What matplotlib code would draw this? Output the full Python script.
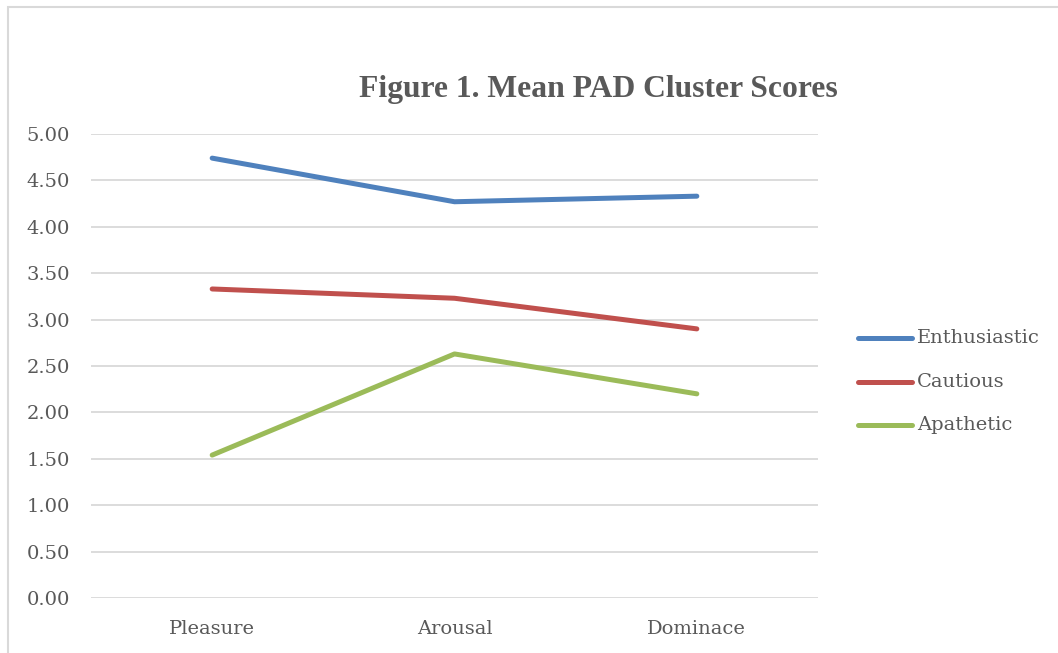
import matplotlib.pyplot as plt
from matplotlib.lines import Line2D
from matplotlib.patches import Rectangle

categories = ["Pleasure", "Arousal", "Dominace"]
series_names = ["Enthusiastic", "Cautious", "Apathetic"]
enthusiastic = [4.74, 4.27, 4.33]
cautious = [3.33, 3.23, 2.90]
apathetic = [1.54, 2.63, 2.20]
colors = ["#4F81BD", "#C0504D", "#9BBB59"]
yticks = [0.0, 0.5, 1.0, 1.5, 2.0, 2.5, 3.0, 3.5, 4.0, 4.5, 5.0]

W, H = 1058, 653
fig = plt.figure(figsize=(W / 100, H / 100), dpi=100)
fig.patch.set_facecolor("white")

# chart border (runs off the right/bottom edge like the screenshot)
fig.add_artist(Rectangle((8 / W, -0.05), 1.1, 1 - 7 / H + 0.05, transform=fig.transFigure,
                         fill=False, edgecolor="#d9d9d9", linewidth=1.5))

ax = fig.add_axes([91 / W, 1 - 598 / H, (818 - 91) / W, (598 - 134) / H])
x = range(len(categories))
for vals, name, c in zip([enthusiastic, cautious, apathetic], series_names, colors):
    ax.plot(x, vals, color=c, linewidth=3.6, solid_capstyle="round", label=name, zorder=3)

ax.set_xlim(-0.5, len(categories) - 0.5)
ax.set_ylim(0, 5)
ax.set_yticks(yticks)
ax.set_yticklabels([f"{v:.2f}" for v in yticks])
ax.set_xticks(list(x))
ax.set_xticklabels(categories)
ax.grid(axis="y", color="#d9d9d9", linewidth=1.3)
ax.set_axisbelow(True)
for s in ax.spines.values():
    s.set_visible(False)
ax.tick_params(length=0, labelsize=14, labelcolor="#595959")
ax.tick_params(axis="y", pad=15)
ax.tick_params(axis="x", pad=16)
for lbl in ax.get_xticklabels() + ax.get_yticklabels():
    lbl.set_family("DejaVu Serif")

fig.text(598 / W, 1 - 90 / H, "Figure 1. Mean PAD Cluster Scores", ha="center", va="center",
         fontsize=22.8, fontweight="bold", color="#595959", family="Liberation Serif")

# legend
ly = [338, 382, 425]
for name, c, yy in zip(series_names, colors, ly):
    fig.add_artist(Line2D([858 / W, 912 / W], [1 - yy / H] * 2, color=c, linewidth=3.6,
                          solid_capstyle="round", transform=fig.transFigure))
    fig.text(917 / W, 1 - yy / H, name, ha="left", va="center", fontsize=14,
             color="#595959", family="DejaVu Serif")

fig.savefig("out.png", dpi=100)
